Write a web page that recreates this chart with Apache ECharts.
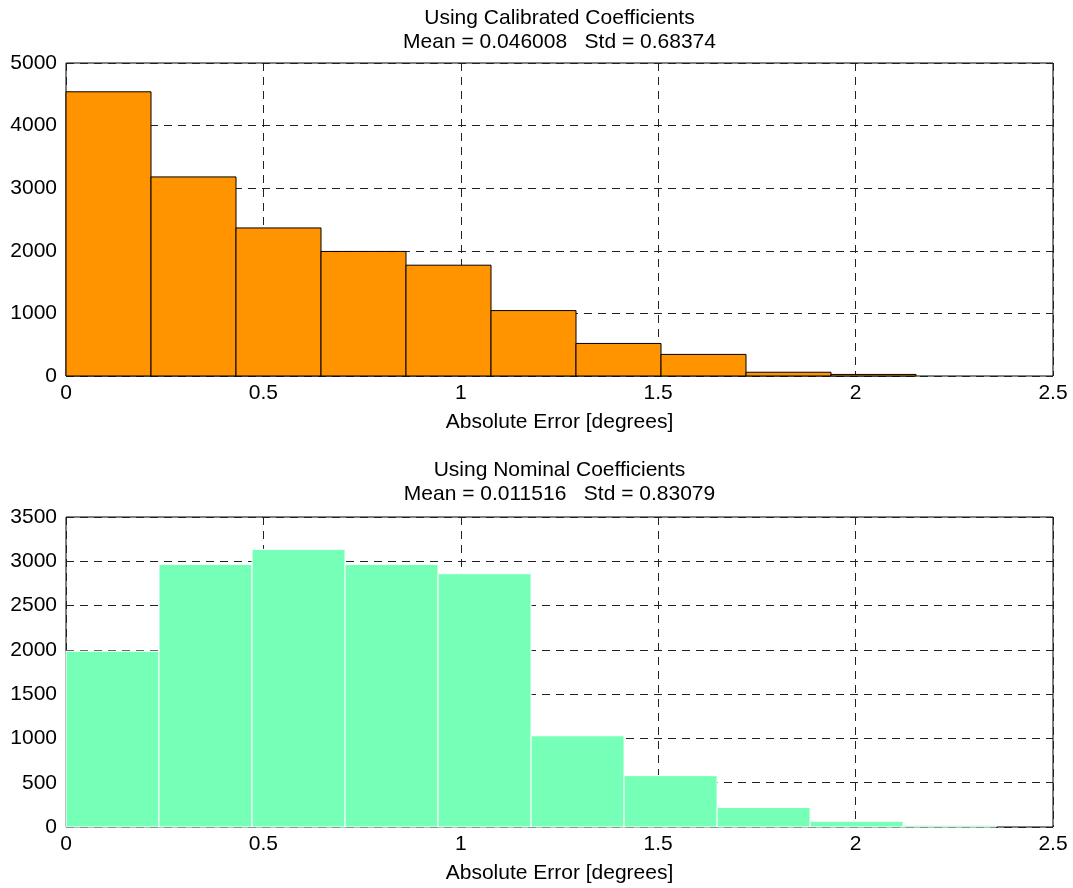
<!DOCTYPE html>
<html>
<head>
<meta charset="utf-8">
<script src="https://cdn.jsdelivr.net/npm/echarts@6/dist/echarts.min.js"></script>
<style>
  html, body { margin: 0; padding: 0; background: #fff; }
  #chart { width: 1073px; height: 888px; }
</style>
</head>
<body>
<div id="chart"></div>
<script>
// Histogram of absolute error, two coefficient sets
const calibratedCounts = [4540, 3180, 2365, 1990, 1770, 1045, 520, 345, 60, 25];
const calibratedBinWidth = 0.2153;
const nominalCounts = [1985, 2965, 3135, 2965, 2860, 1030, 580, 220, 65, 20];
const nominalBinWidth = 0.2356;

const calibratedTitle = 'Using Calibrated Coefficients';
const calibratedStats = 'Mean = 0.046008   Std = 0.68374';
const nominalTitle = 'Using Nominal Coefficients';
const nominalStats = 'Mean = 0.011516   Std = 0.83079';
const xAxisName = 'Absolute Error [degrees]';

const FONT = '"Liberation Sans", Arial, sans-serif';

function bins(counts, width) {
  return counts.map((c, i) => [i * width, (i + 1) * width, c]);
}

function histSeries(idx, data, fill, stroke) {
  return {
    type: 'custom',
    xAxisIndex: idx,
    yAxisIndex: idx,
    data: data,
    encode: { x: [0, 1], y: 2 },
    renderItem: function (params, api) {
      const p0 = api.coord([api.value(0), api.value(2)]);
      const p1 = api.coord([api.value(1), 0]);
      return {
        type: 'rect',
        shape: { x: p0[0], y: p0[1], width: p1[0] - p0[0], height: p1[1] - p0[1] },
        style: { fill: fill, stroke: stroke, lineWidth: 1 }
      };
    }
  };
}

const splitDash = { show: true, lineStyle: { color: '#222', type: [8, 6], width: 1 } };
const labelStyle = { color: '#000', fontSize: 21, fontFamily: FONT, formatter: v => String(v) };

function xAxis(idx) {
  return {
    type: 'value', gridIndex: idx, min: 0, max: 2.5, interval: 0.5,
    name: xAxisName, nameLocation: 'middle', nameGap: 36,
    nameTextStyle: { color: '#000', fontSize: 21, fontFamily: FONT },
    axisLine: { show: false }, axisTick: { show: false },
    axisLabel: Object.assign({ margin: 7 }, labelStyle),
    splitLine: splitDash
  };
}
function yAxis(idx, max, interval) {
  return {
    type: 'value', gridIndex: idx, min: 0, max: max, interval: interval,
    axisLine: { show: false }, axisTick: { show: false },
    axisLabel: Object.assign({ margin: 9 }, labelStyle),
    splitLine: splitDash
  };
}
function titleBlock(text, stats, top) {
  return {
    text: text + '\n' + stats,
    left: 559.5, top: top, textAlign: 'center', padding: 0,
    textStyle: { color: '#000', fontSize: 21, fontWeight: 'normal', fontFamily: FONT, lineHeight: 24 }
  };
}

const chart = echarts.init(document.getElementById('chart'), null, { renderer: 'canvas' });
chart.setOption({
  backgroundColor: '#fff',
  animation: false,
  title: [
    titleBlock(calibratedTitle, calibratedStats, 6),
    titleBlock(nominalTitle, nominalStats, 458)
  ],
  grid: [
    { left: 66, top: 63, width: 987, height: 313, show: true, borderColor: '#000', borderWidth: 1, backgroundColor: '#fff' },
    { left: 66, top: 517, width: 987, height: 310, show: true, borderColor: '#000', borderWidth: 1, backgroundColor: '#fff' }
  ],
  xAxis: [xAxis(0), xAxis(1)],
  yAxis: [yAxis(0, 5000, 1000), yAxis(1, 3500, 500)],
  series: [
    histSeries(0, bins(calibratedCounts, calibratedBinWidth), '#ff9400', '#000'),
    histSeries(1, bins(nominalCounts, nominalBinWidth), '#76ffb6', '#fff')
  ]
});
</script>
</body>
</html>
